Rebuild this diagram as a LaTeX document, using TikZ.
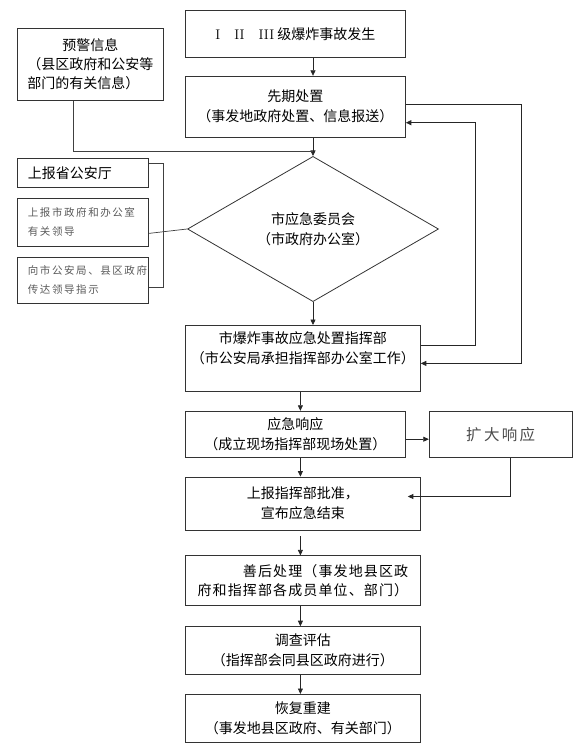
\documentclass[tikz,border=0pt]{standalone}
\usepackage{fontspec}
\newfontfamily\cjk{Noto Sans CJK SC}
\newfontfamily\cjkwide[LetterSpace=8]{Noto Sans CJK SC}
\newfontfamily\cjkspread[LetterSpace=15]{Noto Sans CJK SC}
\usetikzlibrary{positioning,arrows.meta,shapes.geometric}

\begin{document}
\begin{tikzpicture}[
    x=1pt, y=1pt,
    font=\cjk\fontsize{14}{20}\selectfont,
    >={Triangle[width=5pt,length=5.5pt]},
    box/.style={draw=black!80, line width=0.8pt, align=center, inner sep=2pt},
    mainbox/.style={box, minimum width=235pt, anchor=north west},
    sidebox/.style={box, minimum width=131pt, anchor=north west, align=left, text width=110pt},
    small/.style={font=\cjkspread\fontsize{10.5}{19}\selectfont, text=black!65},
    arrow/.style={->, line width=0.7pt, draw=black!85},
    link/.style={line width=0.7pt, draw=black!75}
]
\useasboundingbox (0,0) rectangle (581,-756);

% --- Main chain ---
\node[mainbox, minimum width=220pt, minimum height=47pt] (top) at (185,-10)
    {{\rmfamily I\quad II\quad III}\ 级爆炸事故发生};
\node[mainbox, minimum width=220pt, minimum height=61pt,
      below=18pt of top.south west, anchor=north west] (prior)
    {先期处置\\（事发地政府处置、信息报送）};
\node[box, diamond, minimum width=251pt, minimum height=110pt, inner sep=0pt] (cmte) at (313,-229)
    {市应急委员会\\（市政府办公室）};
\node[mainbox, minimum height=66pt, text depth=22pt] (hq) at (185,-325)
    {市爆炸事故应急处置指挥部\\（市公安局承担指挥部办公室工作）};
\node[mainbox, minimum width=220pt, minimum height=46pt,
      below=19pt of hq.south west, anchor=north west] (resp)
    {应急响应\\（成立现场指挥部现场处置）};
\node[box, minimum width=143pt, minimum height=46pt, right=23pt of resp,
      font=\cjkspread\fontsize{15.5}{20}\selectfont, text=black!70] (expand) {扩大响应};
\node[mainbox, minimum height=53pt, below=19pt of resp.south west, anchor=north west] (report)
    {上报指挥部批准，\\宣布应急结束};
\node[mainbox, minimum height=50pt, below=25pt of report.south west, anchor=north west,
      align=right, font=\cjkwide\fontsize{14}{19}\selectfont] (after)
    {善后处理（事发地县区政\\府和指挥部各成员单位、部门）};
\node[mainbox, minimum height=48pt, below=20pt of after.south west, anchor=north west] (survey)
    {调查评估\\（指挥部会同县区政府进行）};
\node[mainbox, minimum height=48pt, below=19pt of survey.south west, anchor=north west] (rebuild)
    {恢复重建\\（事发地县区政府、有关部门）};

% --- Left side ---
\node[box, minimum width=146pt, minimum height=72pt, anchor=north west, align=left,
      font=\cjk\fontsize{14}{19}\selectfont] (warn) at (17,-28)
    {\hspace*{2.5em}预警信息\\（县区政府和公安等\\部门的有关信息）};
\node[sidebox, minimum height=29pt, font=\cjk\fontsize{14}{19}\selectfont] (prov) at (17,-158)
    {上报省公安厅};
\node[sidebox, small, minimum height=48pt] (city) at (17,-198)
    {上报市政府和办公室\\有关领导};
\node[sidebox, small, minimum height=46pt] (relay) at (17,-257)
    {向市公安局、县区政府\\传达领导指示};

% --- Connectors ---
\coordinate (join) at ([yshift=-14pt]prior.south -| cmte.north);
\draw[arrow] (top.south -| cmte.north) -- (prior.north -| cmte.north);
\draw[arrow] (prior.south -| cmte.north) -- (cmte.north);
\draw[link] ([xshift=-17pt]warn.south) |- (join);
\draw[arrow] (cmte.south) -- (cmte.south |- hq.north);

\draw[link] ([yshift=10pt]prov.east) -- ++(15pt,0) |- ([yshift=-7pt]relay.east);
\draw[link] (cmte.west) -- ([yshift=-11pt]city.east);

\draw[arrow] ([yshift=13pt]hq.east) -- ++(55pt,0) |- ([yshift=-16pt]prior.east);
\draw[arrow] ([yshift=2pt]prior.east) -- ++(116pt,0) |- ([yshift=-5pt]hq.east);

\draw[arrow] ([xshift=-2.5pt]hq.south) -- ([xshift=-2.5pt]hq.south |- resp.north);
\draw[arrow] ([yshift=-5pt]resp.east) -- ([yshift=-5pt]expand.west);
\draw[arrow] ([xshift=5pt]resp.south) -- ([xshift=5pt]resp.south |- report.north);
\draw[arrow] ([xshift=9.5pt]expand.south) |- ([xshift=-13pt,yshift=7pt]report.east);
\draw[arrow] ([xshift=-2.5pt,yshift=-6pt]report.south) -- ([xshift=-2.5pt]report.south |- after.north);
\draw[arrow] ([xshift=-2.5pt]after.south) -- ([xshift=-2.5pt]after.south |- survey.north);
\draw[arrow] ([xshift=-2.5pt]survey.south) -- ([xshift=-2.5pt]survey.south |- rebuild.north);

\end{tikzpicture}
\end{document}
